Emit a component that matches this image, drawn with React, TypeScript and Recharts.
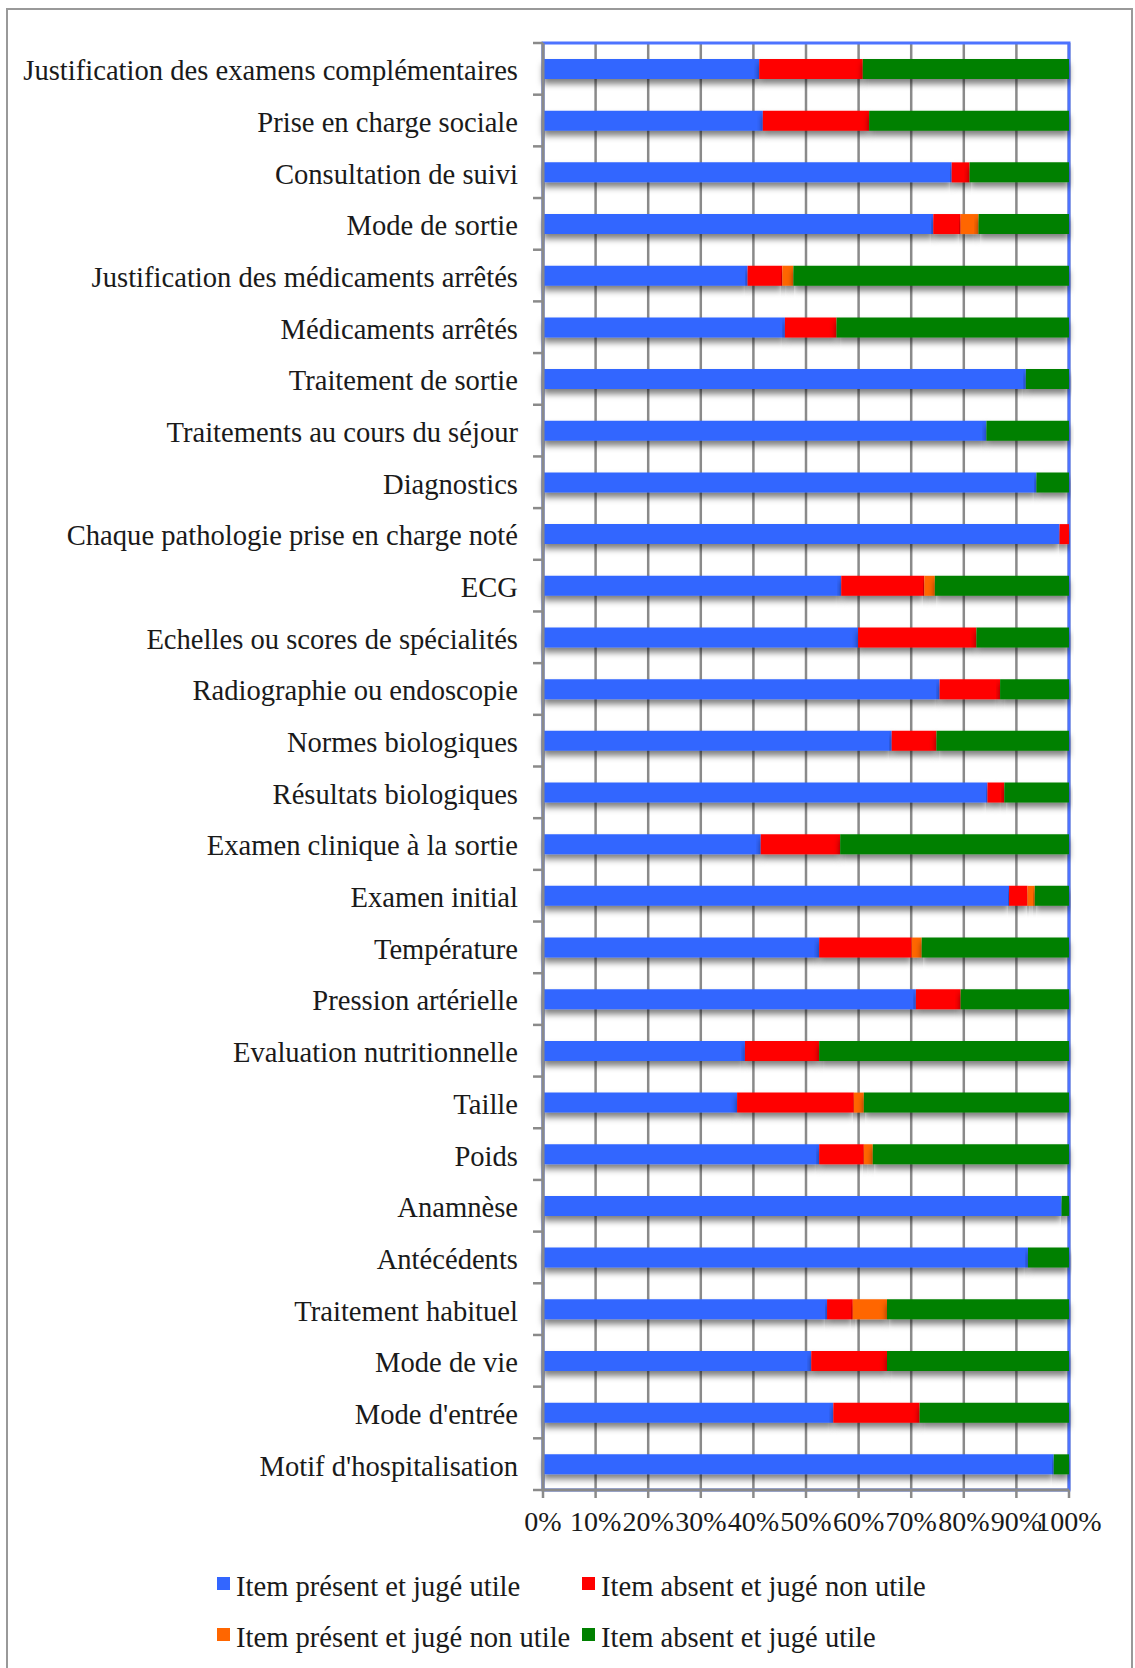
import { BarChart, Bar, XAxis, YAxis, CartesianGrid, ReferenceArea, Rectangle } from "recharts";

const categories = [
  "Justification des examens complémentaires",
  "Prise en charge sociale",
  "Consultation de suivi",
  "Mode de sortie",
  "Justification des médicaments arrêtés",
  "Médicaments arrêtés",
  "Traitement de sortie",
  "Traitements au cours du séjour",
  "Diagnostics",
  "Chaque pathologie prise en charge noté",
  "ECG",
  "Echelles ou scores de spécialités",
  "Radiographie ou endoscopie",
  "Normes biologiques",
  "Résultats biologiques",
  "Examen clinique à la sortie",
  "Examen initial",
  "Température",
  "Pression artérielle",
  "Evaluation nutritionnelle",
  "Taille",
  "Poids",
  "Anamnèse",
  "Antécédents",
  "Traitement habituel",
  "Mode de vie",
  "Mode d'entrée",
  "Motif d'hospitalisation",
];

// % des dossiers
const presentUtile = [41.1, 41.8, 77.7, 74.2, 38.9, 46.0, 91.8, 84.3, 93.8, 98.2, 56.7, 59.9, 75.4, 66.3, 84.5, 41.4, 88.6, 52.5, 70.9, 38.4, 36.9, 52.5, 98.6, 92.2, 54.0, 51.0, 55.2, 97.1];
const absentNonUtile = [19.7, 20.2, 3.4, 5.2, 6.6, 9.8, 0, 0, 0, 1.8, 15.8, 22.5, 11.5, 8.5, 3.2, 15.1, 3.5, 17.6, 8.5, 14.1, 22.2, 8.5, 0, 0, 4.9, 14.4, 16.4, 0];
const presentNonUtile = [0, 0, 0, 3.4, 2.1, 0, 0, 0, 0, 0, 2.0, 0, 0, 0, 0, 0, 1.4, 1.9, 0, 0, 1.9, 1.7, 0, 0, 6.5, 0, 0, 0];
const absentUtile = [39.2, 38.0, 18.9, 17.2, 52.4, 44.2, 8.2, 15.7, 6.2, 0, 25.5, 17.6, 13.1, 25.2, 12.3, 43.5, 6.5, 28.0, 20.6, 47.5, 39.0, 37.3, 1.4, 7.8, 34.6, 34.6, 28.4, 2.9];

const xTicks = [0, 10, 20, 30, 40, 50, 60, 70, 80, 90, 100];

const series = [
  { key: "pu", name: "Item présent et jugé utile", color: "#3366ff" },
  { key: "anu", name: "Item absent et jugé non utile", color: "#ff0000" },
  { key: "pnu", name: "Item présent et jugé non utile", color: "#ff6600" },
  { key: "au", name: "Item absent et jugé utile", color: "#008000" },
];

const data = categories.map((name, i) => ({
  name,
  pu: presentUtile[i],
  anu: absentNonUtile[i],
  pnu: presentNonUtile[i],
  au: absentUtile[i],
}));

const FONT = "'Liberation Serif', 'Times New Roman', serif";
const W = 1135;
const H = 1668;
const TOP = 43;
const LEFT = 543;
const RIGHT = 66;
const PLOT_BOTTOM = 1490;
const BAND = (PLOT_BOTTOM - TOP) / categories.length;
const GRAY = "#8a8a8a";

function CategoryTick(props: any) {
  const { x, y, payload, index } = props;
  const axisX = x + 25;
  const last = index === categories.length - 1;
  return (
    <g>
      <text x={x} y={y} dy="0.4em" textAnchor="end" fontSize={28.6} fontFamily={FONT} fill="#1a1a1a">
        {payload.value}
      </text>
      <line x1={axisX - 10} x2={axisX} y1={y - BAND / 2} y2={y - BAND / 2} stroke={GRAY} strokeWidth={2.5} />
      {last && <line x1={axisX - 10} x2={axisX} y1={y + BAND / 2} y2={y + BAND / 2} stroke={GRAY} strokeWidth={2.5} />}
    </g>
  );
}

const shadowShape = (props: any) => <Rectangle {...props} filter="url(#barShadow)" />;

export default function App() {
  return (
    <div style={{ position: "absolute", left: 0, top: 0, width: W, height: H, background: "#fff", overflow: "hidden" }}>
      <div
        style={{
          position: "absolute",
          left: 6,
          top: 8,
          width: 1127,
          height: 1720,
          border: "2px solid #999",
          boxSizing: "border-box",
        }}
      />
      <div style={{ position: "absolute", left: 0, top: 0 }}>
        <BarChart
          width={W}
          height={H}
          data={data}
          layout="vertical"
          margin={{ top: TOP, right: RIGHT, left: 0, bottom: H - PLOT_BOTTOM - 60 }}
          barSize={20}
        >
          <defs>
            <filter id="barShadow" x="-5%" y="-20%" width="110%" height="180%">
              <feDropShadow dx="0" dy="5" stdDeviation="3" floodColor="#000" floodOpacity="0.5" />
            </filter>
          </defs>
          <CartesianGrid horizontal={false} stroke={GRAY} strokeWidth={2.5} />
          <XAxis
            type="number"
            domain={[0, 100]}
            ticks={xTicks}
            tickFormatter={(v) => `${v}%`}
            height={60}
            tickSize={8}
            tickMargin={13}
            axisLine={{ stroke: GRAY, strokeWidth: 3 }}
            tickLine={{ stroke: GRAY, strokeWidth: 2.5 }}
            tick={{ fontSize: 28, fontFamily: FONT, fill: "#1a1a1a" }}
            interval={0}
          />
          <YAxis
            type="category"
            dataKey="name"
            width={LEFT}
            tickSize={0}
            tickMargin={25}
            tickLine={false}
            axisLine={{ stroke: GRAY, strokeWidth: 3 }}
            tick={<CategoryTick />}
            interval={0}
          />
          <ReferenceArea x1={0} x2={100} fill="none" stroke="#4d73ff" strokeWidth={3} />
          {series.map((s) => (
            <Bar
              key={s.key}
              dataKey={s.key}
              name={s.name}
              stackId="a"
              fill={s.color}
              shape={shadowShape}
              isAnimationActive={false}
            />
          ))}
        </BarChart>
      </div>
      <div
        style={{
          position: "absolute",
          left: 217,
          top: 1561,
          width: 760,
          display: "flex",
          flexWrap: "wrap",
          fontFamily: FONT,
          fontSize: 28.6,
          color: "#1a1a1a",
        }}
      >
        {series.map((s, i) => (
          <div
            key={s.key}
            style={{ width: i % 2 === 0 ? 365 : 395, height: 51, display: "flex", alignItems: "center", whiteSpace: "nowrap" }}
          >
            <span style={{ display: "inline-block", width: 13, height: 13, background: s.color, marginRight: 6, marginTop: -6 }} />
            <span>{s.name}</span>
          </div>
        ))}
      </div>
    </div>
  );
}
